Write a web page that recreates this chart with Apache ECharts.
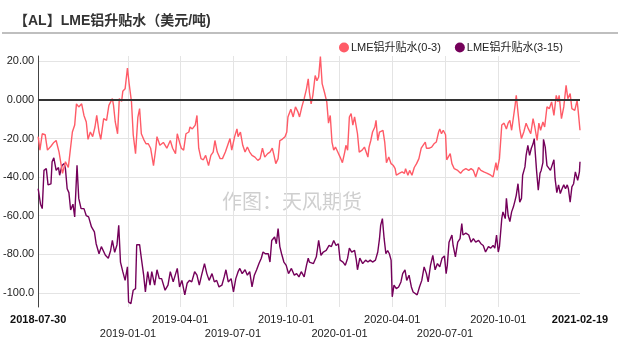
<!DOCTYPE html>
<html>
<head>
<meta charset="utf-8">
<script src="https://cdn.jsdelivr.net/npm/echarts@6/dist/echarts.min.js"></script>
<style>html,body{margin:0;padding:0;background:#fff;}#c{width:618px;height:346px;}</style>
</head>
<body>
<div id="c"></div>
<script>
// ---- data ----
const startDate = '2018-07-30';
const endDate = '2021-02-19';
const tickLabelsTop = ['2018-07-30', '2019-04-01', '2019-10-01', '2020-04-01', '2020-10-01', '2021-02-19'];
const tickLabelsBottom = ['2019-01-01', '2019-07-01', '2020-01-01', '2020-07-01'];
const boldLabels = ['2018-07-30', '2021-02-19'];
const gridDates = ['2019-01-01', '2019-04-01', '2019-07-01', '2019-10-01', '2020-01-01', '2020-04-01', '2020-07-01', '2020-10-01'];
const seriesNames = ['LME铝升贴水(0-3)', 'LME铝升贴水(3-15)'];

const dates03 = [
 '2018-07-30','2018-08-02','2018-08-06','2018-08-11','2018-08-15','2018-08-21','2018-08-26','2018-08-30','2018-09-04','2018-09-10',
 '2018-09-15','2018-09-20','2018-09-23','2018-09-27','2018-10-01','2018-10-04','2018-10-08','2018-10-13','2018-10-17','2018-10-21',
 '2018-10-24','2018-10-28','2018-11-01','2018-11-05','2018-11-08','2018-11-12','2018-11-15','2018-11-20','2018-11-25','2018-11-29',
 '2018-12-05','2018-12-07','2018-12-10','2018-12-14','2018-12-17','2018-12-21','2018-12-23','2018-12-27','2018-12-31','2019-01-03',
 '2019-01-07','2019-01-10','2019-01-14','2019-01-18','2019-01-21','2019-01-24','2019-01-28','2019-02-01','2019-02-05','2019-02-09',
 '2019-02-14','2019-02-18','2019-02-20','2019-02-25','2019-03-03','2019-03-09','2019-03-15','2019-03-19','2019-03-24','2019-03-27',
 '2019-03-31','2019-04-03','2019-04-07','2019-04-11','2019-04-16','2019-04-18','2019-04-22','2019-04-27','2019-04-30','2019-05-03',
 '2019-05-07','2019-05-11','2019-05-15','2019-05-20','2019-05-24','2019-05-28','2019-05-31','2019-06-04','2019-06-09','2019-06-13',
 '2019-06-18','2019-06-22','2019-06-26','2019-06-29','2019-07-04','2019-07-08','2019-07-10','2019-07-14','2019-07-18','2019-07-22',
 '2019-07-26','2019-07-30','2019-08-03','2019-08-08','2019-08-13','2019-08-17','2019-08-21','2019-08-25','2019-08-30','2019-09-03',
 '2019-09-07','2019-09-10','2019-09-13','2019-09-17','2019-09-20','2019-09-24','2019-09-29','2019-10-02','2019-10-04','2019-10-09',
 '2019-10-13','2019-10-17','2019-10-21','2019-10-24','2019-10-28','2019-11-01','2019-11-05','2019-11-08','2019-11-10','2019-11-13',
 '2019-11-16','2019-11-20','2019-11-23','2019-11-26','2019-11-29','2019-12-02','2019-12-06','2019-12-10','2019-12-13','2019-12-16',
 '2019-12-19','2019-12-22','2019-12-25','2019-12-29','2020-01-02','2020-01-06','2020-01-10','2020-01-12','2020-01-15','2020-01-18',
 '2020-01-21','2020-01-24','2020-01-27','2020-01-30','2020-02-01','2020-02-04','2020-02-09','2020-02-13','2020-02-16','2020-02-19',
 '2020-02-21','2020-02-24','2020-02-27','2020-03-02','2020-03-04','2020-03-07','2020-03-10','2020-03-12','2020-03-16','2020-03-19',
 '2020-03-22','2020-03-26','2020-03-30','2020-04-03','2020-04-06','2020-04-08','2020-04-13','2020-04-18','2020-04-22','2020-04-24',
 '2020-04-28','2020-05-01','2020-05-05','2020-05-09','2020-05-13','2020-05-17','2020-05-21','2020-05-24','2020-05-28','2020-05-30',
 '2020-06-04','2020-06-08','2020-06-12','2020-06-16','2020-06-20','2020-06-22','2020-06-25','2020-06-28','2020-07-02','2020-07-04',
 '2020-07-07','2020-07-10','2020-07-13','2020-07-17','2020-07-23','2020-07-28','2020-08-01','2020-08-06','2020-08-11','2020-08-15',
 '2020-08-19','2020-08-23','2020-08-28','2020-09-01','2020-09-06','2020-09-12','2020-09-18','2020-09-22','2020-09-27','2020-09-29',
 '2020-10-03','2020-10-07','2020-10-11','2020-10-15','2020-10-18','2020-10-21','2020-10-24','2020-10-26','2020-10-30','2020-11-01',
 '2020-11-03','2020-11-07','2020-11-10','2020-11-14','2020-11-18','2020-11-22','2020-11-26','2020-11-30','2020-12-03','2020-12-07',
 '2020-12-10','2020-12-13','2020-12-17','2020-12-20','2020-12-24','2020-12-28','2021-01-01','2021-01-05','2021-01-09','2021-01-12',
 '2021-01-14','2021-01-18','2021-01-22','2021-01-26','2021-01-29','2021-02-02','2021-02-05','2021-02-10','2021-02-14','2021-02-16',
 '2021-02-19'
];
const values03 = [
 -19,-26,-17.5,-18,-26,-24,-22,-21,-27,-38,
 -32,-35,-27,-16.6,-13,-2,-3.6,-2,-8,-11.4,
 -20.4,-16.6,-19,-14,-8,-16.6,-20.4,-9.7,-10.6,-2.8,
 0.7,-2.8,-11.4,-17.5,0.7,-0.7,4.5,5.8,16.5,8.4,
 -1,-18,-27.8,-9,-4.5,-17.5,-20.4,-22.7,-22.7,-25,
 -34,-25,-19,-23.5,-22,-25,-21,-25,-27.8,-17.5,
 -22,-25,-26,-17.5,-16.6,-14,-15,-13,-8,-25,
 -30.4,-31,-28.7,-34,-28.7,-27,-21,-27,-30.4,-30.4,
 -27,-23.5,-20,-26,-19,-15,-19,-16.6,-23.5,-27,
 -24.4,-27,-28.7,-29.6,-31.3,-30.4,-25,-29.6,-27.8,-27,
 -25,-28.7,-33,-30.4,-21,-20.4,-19,-16.6,-8.8,-4.8,
 -8.8,-3.6,-6,-8.8,-3.6,0.7,5.8,11,4,-2,
 2.4,12.7,10,11.9,22.5,8.5,4,-1,-12,-8,
 -21.8,-26,-24.4,-27,-29.6,-32.5,-27,-23.5,-26,-8.8,
 -7,-13,-8.8,-14,-17.5,-27,-26,-24.4,-27,-29.6,
 -24.4,-21,-16.6,-14,-10.5,-21,-16.6,-15.7,-15.7,-21.8,
 -32.5,-29.6,-33,-34,-35.6,-39,-38,-37.3,-38,-35.6,
 -39,-36.5,-39,-35,-33,-30.4,-25,-24.4,-21.8,-25,
 -25,-24.4,-22.7,-21.8,-16.6,-15,-17.5,-15.7,-18,-31,
 -32,-27.8,-33,-35.6,-36.5,-38,-36.5,-35.6,-36.5,-35.6,
 -36.5,-39.9,-35,-36.5,-37.3,-38,-39,-39.9,-32.5,-36.5,
 -30.4,-13,-12,-15,-12,-10.5,-15.7,-11.4,-2.8,2.4,
 -3.6,-15,-20,-16.6,-12,-15,-17.5,-9.7,-14,-21,
 -12,-15.7,-11.4,-14,-3.6,-4.5,-1,-8,2.4,-1,
 2.4,-9.7,-3.6,7.6,0.7,3.3,-4.5,-5.4,-0.2,-6,
 -15.7
];

const dates315 = [
 '2018-07-30','2018-08-03','2018-08-06','2018-08-09','2018-08-13','2018-08-16','2018-08-21','2018-08-23','2018-08-26','2018-08-30',
 '2018-09-03','2018-09-05','2018-09-09','2018-09-13','2018-09-15','2018-09-18','2018-09-21','2018-09-24','2018-09-28','2018-10-01',
 '2018-10-05','2018-10-08','2018-10-12','2018-10-17','2018-10-21','2018-10-25','2018-10-30','2018-11-04','2018-11-07','2018-11-12',
 '2018-11-16','2018-11-19','2018-11-23','2018-11-28','2018-12-02','2018-12-05','2018-12-09','2018-12-13','2018-12-16','2018-12-19',
 '2018-12-23','2018-12-27','2018-12-31','2019-01-02','2019-01-06','2019-01-10','2019-01-14','2019-01-16','2019-01-21','2019-01-24',
 '2019-01-28','2019-01-31','2019-02-04','2019-02-08','2019-02-11','2019-02-16','2019-02-20','2019-02-24','2019-02-28','2019-03-06',
 '2019-03-11','2019-03-15','2019-03-17','2019-03-20','2019-03-23','2019-03-27','2019-03-31','2019-04-04','2019-04-09','2019-04-13',
 '2019-04-17','2019-04-21','2019-04-26','2019-04-30','2019-05-04','2019-05-08','2019-05-13','2019-05-17','2019-05-21','2019-05-26',
 '2019-05-30','2019-06-03','2019-06-07','2019-06-12','2019-06-16','2019-06-19','2019-06-23','2019-06-28','2019-07-02','2019-07-06',
 '2019-07-10','2019-07-13','2019-07-17','2019-07-22','2019-07-26','2019-07-30','2019-08-03','2019-08-07','2019-08-11','2019-08-15',
 '2019-08-19','2019-08-22','2019-08-26','2019-08-31','2019-09-03','2019-09-06','2019-09-09','2019-09-11','2019-09-14','2019-09-17',
 '2019-09-20','2019-09-23','2019-09-27','2019-10-01','2019-10-05','2019-10-10','2019-10-15','2019-10-19','2019-10-23','2019-10-27',
 '2019-11-01','2019-11-05','2019-11-08','2019-11-10','2019-11-13','2019-11-17','2019-11-22','2019-11-26','2019-11-30','2019-12-04',
 '2019-12-09','2019-12-14','2019-12-18','2019-12-22','2019-12-26','2019-12-30','2020-01-02','2020-01-07','2020-01-11','2020-01-15',
 '2020-01-18','2020-01-22','2020-01-27','2020-01-30','2020-02-01','2020-02-05','2020-02-10','2020-02-15','2020-02-19','2020-02-23',
 '2020-02-27','2020-03-03','2020-03-07','2020-03-10','2020-03-12','2020-03-15','2020-03-18','2020-03-21','2020-03-24','2020-03-27',
 '2020-03-30','2020-04-01','2020-04-04','2020-04-08','2020-04-12','2020-04-16','2020-04-19','2020-04-23','2020-04-26','2020-04-30',
 '2020-05-04','2020-05-07','2020-05-10','2020-05-14','2020-05-18','2020-05-22','2020-05-26','2020-05-30','2020-06-02','2020-06-06',
 '2020-06-10','2020-06-14','2020-06-18','2020-06-22','2020-06-26','2020-06-30','2020-07-03','2020-07-05','2020-07-08','2020-07-13',
 '2020-07-15','2020-07-19','2020-07-23','2020-07-27','2020-07-30','2020-08-01','2020-08-06','2020-08-11','2020-08-15','2020-08-19',
 '2020-08-23','2020-08-28','2020-09-01','2020-09-05','2020-09-09','2020-09-14','2020-09-18','2020-09-22','2020-09-25','2020-09-28',
 '2020-10-01','2020-10-03','2020-10-07','2020-10-09','2020-10-13','2020-10-15','2020-10-18','2020-10-21','2020-10-24','2020-10-27',
 '2020-10-30','2020-11-01','2020-11-04','2020-11-07','2020-11-10','2020-11-12','2020-11-16','2020-11-18','2020-11-21','2020-11-24',
 '2020-11-27','2020-11-30','2020-12-02','2020-12-06','2020-12-09','2020-12-12','2020-12-14','2020-12-17','2020-12-18','2020-12-21',
 '2020-12-24','2020-12-27','2020-12-30','2021-01-02','2021-01-05','2021-01-07','2021-01-10','2021-01-13','2021-01-16','2021-01-19',
 '2021-01-22','2021-01-25','2021-01-28','2021-01-30','2021-02-02','2021-02-05','2021-02-08','2021-02-11','2021-02-14','2021-02-15',
 '2021-02-18','2021-02-19'
];
const values315 = [
 -46,-54,-56.3,-36.5,-35.6,-44,-43.5,-32,-30,-36.5,
 -35,-39,-34,-33,-35.6,-46,-48,-57,-54,-60.6,
 -33.9,-51,-56.3,-56.3,-60,-60.6,-65.8,-68.4,-74.5,-79.7,
 -76,-75,-80.5,-82,-78,-72.8,-79,-75,-65,-84,
 -89,-93.5,-86.5,-104.7,-105.6,-98.6,-97.8,-75,-75,-82,
 -90.8,-99.5,-89,-96,-89,-96,-88,-92.6,-92.6,-98.6,
 -96,-89,-88,-94.3,-94.3,-87.3,-96.9,-93.5,-101,-95,
 -93.5,-94.3,-89,-90.8,-96,-90.8,-84.8,-90,-93.5,-90,
 -94.3,-93.5,-96.9,-96,-91.7,-88,-94.3,-92.6,-99.5,-92.6,
 -89,-87.3,-90,-88,-90.8,-89,-96.9,-90.8,-88,-84.8,
 -82,-78.8,-79.7,-79.7,-84,-72.8,-73.7,-71,-74.5,-66.7,
 -76,-79.7,-84,-85.7,-90,-87.3,-90.8,-90,-91.7,-89,
 -91.7,-85.7,-82,-84,-83,-84.8,-81.3,-72.8,-80.5,-78.8,
 -78,-75.4,-76,-72.8,-75.4,-74.5,-83,-84,-85.7,-82,
 -76.8,-78.8,-78,-83,-88,-82,-84.8,-83,-84,-83,
 -84,-83,-78.8,-71.9,-65,-61.5,-71.9,-79.7,-78,-79.7,
 -83,-102,-96,-97.8,-96.9,-94.3,-90,-88,-93.5,-90.8,
 -96.9,-99.5,-98.6,-101,-96.9,-93.5,-86.5,-90,-94.3,-85.7,
 -80.5,-88,-84.8,-86.5,-82,-80.8,-90,-85.7,-73.7,-70,
 -75.4,-81.3,-73.7,-71.9,-64,-70,-69,-70,-73.7,-71.9,
 -73.7,-72.8,-74.5,-75.4,-78.8,-76,-76.8,-75.4,-76.8,-70,
 -78.8,-76,-61.5,-58,-61.5,-51,-59.9,-63,-58,-55.5,
 -52,-49.4,-43.4,-53,-51,-39,-34.7,-28.7,-23.5,-28.7,
 -25,-22.7,-20,-36.5,-46.8,-38,-36.5,-32.5,-20.4,-24.4,
 -34,-35,-36.5,-35.6,-31,-40.8,-48,-44,-48.5,-46,
 -44,-46,-44,-46,-53,-45,-43.4,-37.3,-36.5,-41.7,
 -37.3,-32
];

// ---- build calendar-day categories ----
function buildDays(a, b) {
  const out = [];
  let t = Date.UTC(+a.slice(0,4), +a.slice(5,7)-1, +a.slice(8,10));
  const e = Date.UTC(+b.slice(0,4), +b.slice(5,7)-1, +b.slice(8,10));
  while (t <= e) { out.push(new Date(t).toISOString().slice(0,10)); t += 86400000; }
  return out;
}
const days = buildDays(startDate, endDate);
const labelSet = new Set(tickLabelsTop.concat(tickLabelsBottom));
const gridSet = new Set(gridDates);

const pink = '#FF5B67';
const purple = '#74005A';
const FONT = 'Arial, "Liberation Sans", "Noto Sans CJK SC", sans-serif';

const chart = echarts.init(document.getElementById('c'), null, {renderer: 'canvas'});
chart.setOption({
  animation: false,
  backgroundColor: '#fff',
  textStyle: {fontFamily: FONT},
  title: {
    text: '【AL】LME铝升贴水（美元/吨)',
    left: 9, top: 9,
    textStyle: {fontSize: 14, fontWeight: 'bold', color: '#333', fontFamily: FONT}
  },
  graphic: [
    {type: 'line', shape: {x1: 2, y1: 33, x2: 618, y2: 33}, style: {stroke: '#aaa', lineWidth: 1.5}, silent: true},
    {type: 'text', left: 222, top: 193, silent: true,
     style: {text: '作图：天风期货', fontSize: 20, fill: '#cfcfcf', fontFamily: FONT}}
  ],
  legend: {
    left: 334, top: 37,
    icon: 'circle', itemWidth: 10, itemHeight: 10, itemGap: 14,
    textStyle: {fontSize: 11, color: '#222', fontFamily: FONT, padding: [0,0,0,-3]},
    data: seriesNames
  },
  grid: {left: 35, right: 38, top: 56, bottom: 39, containLabel: false},
  xAxis: {
    type: 'category',
    data: days,
    boundaryGap: false,
    axisLine: {show: false},
    axisTick: {show: false},
    splitLine: {show: true, interval: (i, v) => gridSet.has(v), lineStyle: {color: '#e4e4e4', width: 1}},
    axisLabel: {
      interval: (i, v) => labelSet.has(v),
      margin: 6,
      fontSize: 11,
      lineHeight: 14,
      color: '#222',
      fontFamily: FONT,
      formatter: function (v) {
        if (boldLabels.indexOf(v) >= 0) return '{b|' + v + '}';
        if (tickLabelsBottom.indexOf(v) >= 0) return '\n' + v;
        return v;
      },
      rich: {b: {fontWeight: 'bold', fontSize: 11, color: '#111', lineHeight: 14, fontFamily: FONT}}
    }
  },
  yAxis: {
    type: 'value',
    min: -107.3, max: 22.8,
    splitNumber: 7,
    axisLine: {show: true, lineStyle: {color: '#444', width: 1}},
    axisTick: {show: false},
    axisLabel: {
      showMinLabel: false, showMaxLabel: false,
      margin: 4, fontSize: 11, color: '#222', fontFamily: FONT,
      formatter: v => Number(v).toPrecision(4)
    },
    splitLine: {show: true, showMinLine: false, showMaxLine: false, lineStyle: {color: '#e4e4e4', width: 1}}
  },
  series: [
    {
      name: seriesNames[0], type: 'line', symbol: 'none',
      data: dates03.map((d, i) => [d, values03[i]]),
      lineStyle: {color: pink, width: 1.4}, itemStyle: {color: pink},
      z: 3,
      markLine: {
        silent: true, symbol: ['none', 'none'],
        label: {show: false},
        lineStyle: {color: '#333', width: 2, type: 'solid'},
        data: [{yAxis: 0}]
      }
    },
    {
      name: seriesNames[1], type: 'line', symbol: 'none',
      data: dates315.map((d, i) => [d, values315[i]]),
      lineStyle: {color: purple, width: 1.4}, itemStyle: {color: purple},
      z: 2
    }
  ]
});
</script>
</body>
</html>
